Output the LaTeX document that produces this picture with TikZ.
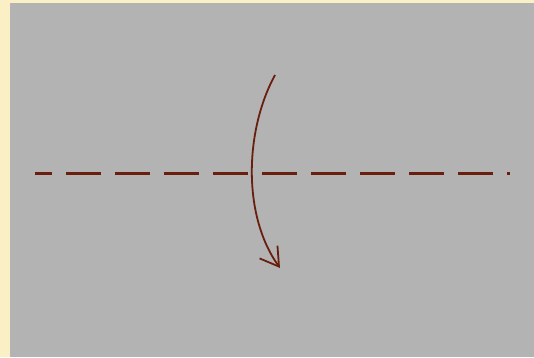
\documentclass[tikz,border=0pt]{standalone}
\usetikzlibrary{arrows.meta}
\definecolor{beige}{HTML}{FBEFC6}
\definecolor{panel}{HTML}{B3B3B3}
\definecolor{brownline}{HTML}{6A1E0E}
\tikzset{
  axisline/.style={draw=brownline, line width=3pt, dash pattern=on 35pt off 14pt, dash phase=18pt},
  turnarrow/.style={draw=brownline, line width=1.8pt, -{Straight Barb[length=18pt,width=22pt,line width=1.8pt]}}
}
\begin{document}
\begin{tikzpicture}[x=1pt,y=-1pt]
\useasboundingbox (0,0) rectangle (534,357);
\fill[beige] (0,0) rectangle (534,357);
\fill[panel] (10,3) rectangle (534,357);
\coordinate (la) at (35,173);
\coordinate (lb) at (510,173);
\draw[axisline] (la) -- (lb);
\coordinate (ta) at (275,75);
\coordinate (tb) at (280,268);
\draw[turnarrow] (ta) .. controls (245,130) and (242,215) .. (tb);
\end{tikzpicture}
\end{document}
